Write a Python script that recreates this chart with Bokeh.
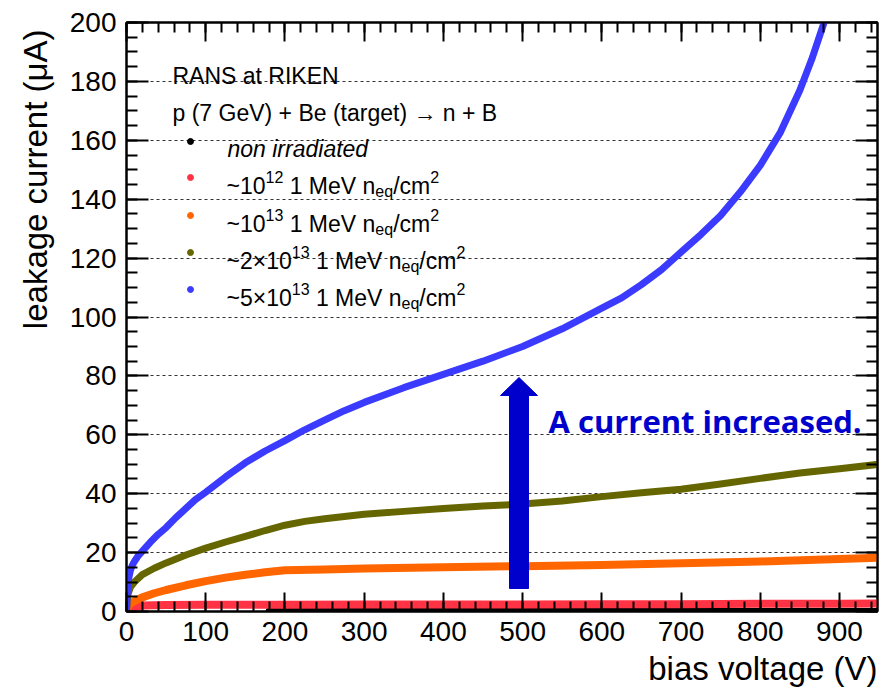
import math
from bokeh.plotting import figure
from bokeh.models import (Label, LinearAxis, SingleIntervalTicker, Range1d,
                          CustomJSTickFormatter, Grid, Title)
from bokeh.embed import file_html
from bokeh.resources import INLINE

# ---------------- data ----------------
v_black = [180, 210, 250, 300, 400, 500, 600, 700, 800, 900, 950]
i_black = [0.2, 0.2, 0.2, 0.2, 0.2, 0.2, 0.2, 0.2, 0.2, 0.2, 0.2]

v_red = [0, 5, 10, 20, 50, 100, 200, 300, 400, 500, 600, 700, 800, 900, 950]
i_red = [0, 1.0, 1.5, 2.0, 2.2, 2.3, 2.3, 2.4, 2.4, 2.4, 2.5, 2.5, 2.6, 2.6, 2.7]

v_orange = [0, 2, 5, 10, 20, 35, 50, 75, 100, 125, 150, 175, 200, 250, 300, 400, 500, 600,
            700, 800, 900, 950]
i_orange = [0, 1.8, 2.7, 3.5, 4.8, 6.2, 7.3, 8.9, 10.3, 11.5, 12.5, 13.3, 14.0, 14.3, 14.6,
            15.0, 15.4, 15.8, 16.4, 17.0, 17.8, 18.3]

v_olive = [0, 1, 2, 5, 10, 20, 35, 50, 75, 100, 125, 150, 175, 200, 225, 250, 300, 350, 400,
           450, 500, 550, 600, 650, 700, 750, 800, 850, 900, 950]
i_olive = [0, 4.0, 6.0, 8.3, 10.0, 12.5, 14.7, 16.5, 19.2, 21.5, 23.6, 25.5, 27.5, 29.3, 30.6,
           31.5, 33.0, 34.0, 35.0, 35.8, 36.5, 37.5, 39.0, 40.3, 41.5, 43.3, 45.2, 47.0, 48.5, 50.0]

v_blue = [0, 0.5, 1, 2, 3, 5, 7, 10, 15, 20, 30, 40, 50, 62, 75, 87, 100, 125, 150, 175, 200,
          225, 250, 275, 300, 350, 400, 450, 500, 550, 600, 625, 650, 675, 700, 725, 750,
          775, 800, 825, 850, 865, 880]
i_blue = [0, 4.0, 6.5, 9.5, 11.5, 14.0, 15.5, 17.0, 19.0, 20.5, 23.5, 26.2, 28.5, 31.8, 35.0,
          38.0, 40.5, 45.7, 50.5, 54.5, 58.0, 61.7, 65.0, 68.2, 71.0, 76.0, 80.5, 85.0, 90.0,
          96.0, 103.0, 106.5, 111.0, 116.0, 122.0, 128.0, 134.5, 142.5, 151.5, 162.5, 177.0,
          187.5, 199.5]

x_ticks_interval = 100
y_ticks_interval = 20

# ---------------- figure ----------------
W_PX, H_PX = 881, 694
L, R, T, B = 126, 4, 22, 83
X0, X1 = 0, 948
Y0, Y1 = 0, 200
fw, fh = W_PX - L - R, H_PX - T - B


def px2v(px):
    return X0 + (px - L) * (X1 - X0) / fw


def py2i(py):
    return Y1 - (py - T) * (Y1 - Y0) / fh


p = figure(width=W_PX, height=H_PX, output_backend="svg", toolbar_location=None,
           x_range=Range1d(X0, X1), y_range=Range1d(Y0, Y1),
           min_border_left=L, min_border_right=R, min_border_top=T, min_border_bottom=B,
           x_axis_location=None, y_axis_location=None)
p.center = [r for r in p.center if not isinstance(r, Grid)]
p.outline_line_color = "black"
p.outline_line_width = 2
p.background_fill_color = "white"
p.border_fill_color = "white"

FONT = "Liberation Sans"


def make_axis(kind, labels, tick_major, tick_minor):
    if kind == "x":
        tk = SingleIntervalTicker(interval=x_ticks_interval, num_minor_ticks=5)
    else:
        tk = SingleIntervalTicker(interval=y_ticks_interval, num_minor_ticks=4)
    ax = LinearAxis(ticker=tk)
    ax.axis_line_color = "black"
    ax.axis_line_width = 2
    ax.major_tick_line_color = "black"
    ax.major_tick_line_width = 2
    ax.minor_tick_line_color = "black"
    ax.minor_tick_line_width = 2
    ax.major_tick_in = tick_major
    ax.major_tick_out = 0
    ax.minor_tick_in = tick_minor
    ax.minor_tick_out = 0
    if labels:
        ax.major_label_text_font = FONT
        ax.major_label_text_font_size = "28px"
        ax.major_label_text_color = "black"
        ax.major_label_standoff = 10
    else:
        ax.formatter = CustomJSTickFormatter(code="return ''")
        ax.major_label_text_font_size = "1px"
        ax.major_label_standoff = 0
    return ax


p.add_layout(make_axis("x", True, 19, 10), "below")
p.add_layout(make_axis("x", False, 19, 10), "above")
p.add_layout(make_axis("y", True, 22, 11), "left")
p.add_layout(make_axis("y", False, 22, 11), "right")

# axis titles (as side-panel titles, aligned to the end of each axis like ROOT)
p.add_layout(Title(text="bias voltage (V)", align="right", text_font=FONT,
                   text_font_size="33px", text_font_style="normal", text_color="black",
                   standoff=9), "below")
p.add_layout(Title(text="leakage current (μA)", align="right", text_font=FONT,
                   text_font_size="33px", text_font_style="normal", text_color="black",
                   standoff=25, offset=7), "left")

# horizontal dotted grid
grid = Grid(dimension=1, ticker=SingleIntervalTicker(interval=y_ticks_interval))
grid.grid_line_color = "#333333"
grid.grid_line_width = 1
grid.grid_line_dash = "3 3"
p.add_layout(grid)

# ---------------- curves ----------------
p.line(v_black, i_black, line_color="black", line_width=6, line_cap="round")
p.scatter([v_black[0]], [i_black[0]], size=6, color="black")
p.line(v_red, i_red, line_color="#ff3344", line_width=8, line_cap="round", line_join="round")
p.line(v_orange, i_orange, line_color="#ff6600", line_width=8, line_cap="round", line_join="round")
p.line(v_olive, i_olive, line_color="#666600", line_width=7, line_cap="round", line_join="round")
p.line(v_blue, i_blue, line_color="#3b3bff", line_width=7, line_cap="round", line_join="round")

# ---------------- arrow annotation ----------------
ax_c = px2v(518.5)
sh = 9.5 * (X1 - X0) / fw
hh = 18.5 * (X1 - X0) / fw
y_b, y_h, y_t = py2i(588), py2i(395), py2i(377)
p.patch([ax_c - sh, ax_c + sh, ax_c + sh, ax_c + hh, ax_c, ax_c - hh, ax_c - sh],
        [y_b, y_b, y_h, y_h, y_t, y_h, y_h], fill_color="#0000cc", line_color="#0000cc", line_width=1)

p.add_layout(Label(x=px2v(548), y=py2i(420), text="A current increased.",
                   text_font="Open Sans", text_font_style="bold", text_font_size="31px",
                   text_color="#0000cc", text_align="left", text_baseline="alphabetic"))

# ---------------- legend (manual) ----------------
NB = "\u00a0"
WID = {' ': 0.278, NB: 0.278, '~': 0.584, '×': 0.584, '/': 0.278, 'M': 0.833, 'V': 0.667,
       'e': 0.556, 'n': 0.556, 'q': 0.556, 'c': 0.5, 'm': 0.833}


def tw(s, size):
    return sum(WID.get(ch, 0.556) for ch in s) * size


def rich(pieces, x_px, base_px):
    x = x_px
    for txt, size, dy, style in pieces:
        p.add_layout(Label(x=px2v(x), y=py2i(base_px - dy), text=txt, text_font=FONT,
                           text_font_size=f"{size}px", text_font_style=style,
                           text_color="black", text_align="left", text_baseline="alphabetic"))
        x += tw(txt, size)


FS = 23
SUP = 16
p.add_layout(Label(x=px2v(172), y=py2i(75), text="RANS at RIKEN", text_font=FONT,
                   text_font_size=f"{FS}px", text_color="black", text_baseline="alphabetic"))
p.add_layout(Label(x=px2v(172), y=py2i(112), text="p (7 GeV) + Be (target) \u2192 n + B",
                   text_font=FONT, text_font_size=f"{FS}px", text_color="black",
                   text_baseline="alphabetic"))

legend_colors = ["black", "#ff3344", "#ff6600", "#666600", "#3b3bff"]
legend_centers = [141, 177, 215, 252, 289]
prefixes = ["~10", "~10", "~2×10", "~5×10"]
exps = ["12", "13", "13", "13"]

p.scatter([px2v(190)] * 5, [py2i(c) for c in legend_centers], size=6, color=legend_colors)

rich([("non irradiated", FS, 0, "italic")], 227, legend_centers[0] + 7)
for k in range(4):
    base = legend_centers[k + 1] + 8
    rich([(prefixes[k], FS, 0, "normal"), (exps[k], SUP, 9, "normal"),
          (NB + "1" + NB + "MeV" + NB + "n", FS, 0, "normal"), ("eq", SUP, -6, "normal"),
          ("/cm", FS, 0, "normal"), ("2", SUP, 9, "normal")], 226, base)

open("out.html", "w").write(file_html(p, INLINE))
